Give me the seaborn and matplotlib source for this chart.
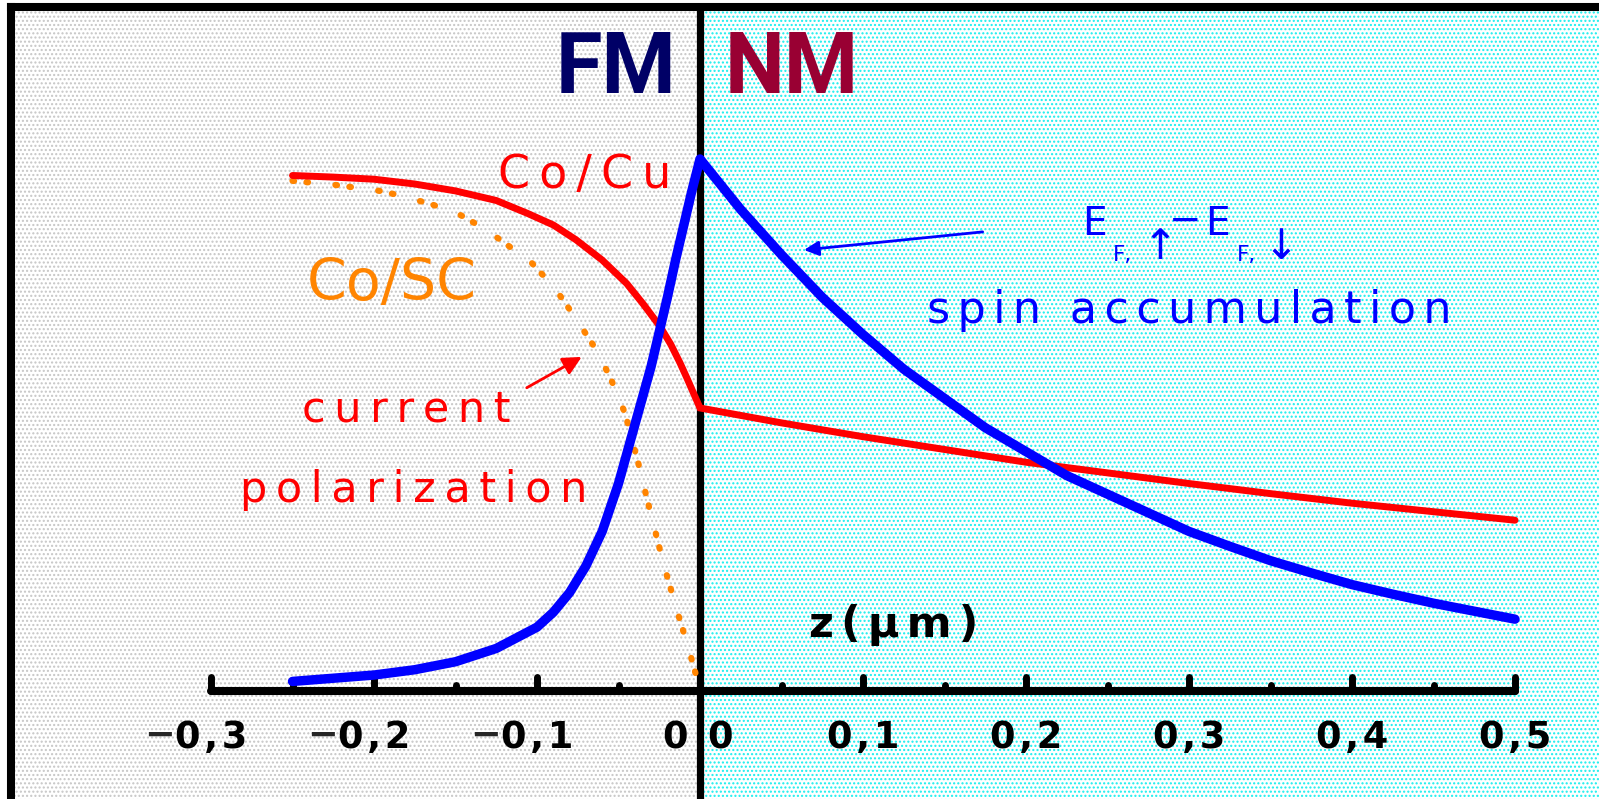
import numpy as np
import pandas as pd
import matplotlib.pyplot as plt
import seaborn as sns

# ---- values (z in um, y in arbitrary units, axis at 0) ----
# spin accumulation (blue)
z_spin_fm = [-0.25, -0.2, -0.175, -0.15, -0.125, -0.1, -0.09, -0.08, -0.07, -0.06,
             -0.05, -0.045, -0.04, -0.035, -0.03, -0.025, -0.02, -0.015, -0.01, -0.005, 0.0]
spin_fm = [0.018, 0.03, 0.04, 0.055, 0.08, 0.12, 0.148, 0.185, 0.235, 0.30,
           0.39, 0.445, 0.50, 0.555, 0.61, 0.675, 0.74, 0.81, 0.875, 0.94, 1.0]
z_spin_nm = [0.0, 0.025, 0.05, 0.075, 0.1, 0.125, 0.15, 0.175, 0.2, 0.225, 0.25,
             0.275, 0.3, 0.325, 0.35, 0.375, 0.4, 0.425, 0.45, 0.475, 0.5]
spin_nm = [1.0, 0.905, 0.82, 0.74, 0.67, 0.605, 0.55, 0.495, 0.45, 0.405, 0.37,
           0.335, 0.30, 0.272, 0.245, 0.222, 0.20, 0.182, 0.165, 0.15, 0.135]

# current polarization, Co/Cu (red)
z_cocu_fm = [-0.25, -0.225, -0.2, -0.175, -0.15, -0.125, -0.106, -0.09, -0.076, -0.06,
             -0.045, -0.035, -0.0245, -0.018, -0.0123, -0.008, -0.004, 0.0]
pol_cocu_fm = [0.969, 0.966, 0.962, 0.953, 0.94, 0.922, 0.898, 0.876, 0.848, 0.81,
               0.766, 0.728, 0.685, 0.652, 0.617, 0.588, 0.56, 0.532]
z_cocu_nm = [0.0, 0.05, 0.1, 0.15, 0.2, 0.25, 0.3, 0.35, 0.4, 0.45, 0.5]
pol_cocu_nm = [0.532, 0.504, 0.478, 0.454, 0.43, 0.41, 0.39, 0.371, 0.353, 0.337, 0.321]

# current polarization, Co/SC (orange, dotted)
z_cosc = [-0.25, -0.223, -0.194, -0.167, -0.15, -0.138, -0.128, -0.118, -0.103, -0.089,
          -0.077, -0.064, -0.055, -0.046, -0.038, -0.03, -0.022, -0.014, -0.007, -0.002]
pol_cosc = [0.959, 0.951, 0.939, 0.917, 0.9, 0.879, 0.86, 0.838, 0.804, 0.757,
            0.704, 0.643, 0.589, 0.522, 0.43, 0.33, 0.235, 0.15, 0.08, 0.025]

major_ticks = [-0.3, -0.2, -0.1, 0.0, 0.1, 0.2, 0.3, 0.4, 0.5]
minor_ticks = [-0.25, -0.15, -0.05, 0.05, 0.15, 0.25, 0.35, 0.45]
tick_labels = ["−0,3", "−0,2", "−0,1", "0", "0,1", "0,2", "0,3", "0,4", "0,5"]

RED = "#ff0000"
BLUE = "#0000ff"
ORANGE = "#ff8400"


def spaced(s, gap="\u2009"):
    return gap.join(s)


sns.set_style("white")
plt.rcParams["font.family"] = ["DejaVu Sans"]
plt.rcParams["hatch.linewidth"] = 1.0

fig = plt.figure(figsize=(15.99, 7.99), dpi=100)
W, H = 1599, 799
# frame: left edge at 11px, top at 7.5px, right/bottom run off the picture
ax = fig.add_axes([11 / W, (H - 800.5) / H, (1610 - 11) / W, (800.5 - 7.5) / H])
x0, x1 = (11 - 700) / 1630, (1610 - 700) / 1630
y0, y1 = (691 - 800.5) / 532, (691 - 7.5) / 532
ax.set_xlim(x0, x1)
ax.set_ylim(y0, y1)
ax.set_xticks([])
ax.set_yticks([])
for sp in ax.spines.values():
    sp.set_linewidth(5.8)
    sp.set_color("black")

# stippled backgrounds
ax.axvspan(x0, 0, facecolor="white", edgecolor="#c6c6c6", hatch="....", lw=0, zorder=0)
ax.axvspan(0, x1, facecolor="white", edgecolor="#18eeee", hatch="....", lw=0, zorder=0)
ax.axvline(0, color="black", lw=5.2, zorder=1)

# axis with ticks pointing up
ax.hlines(0, major_ticks[0], major_ticks[-1], color="black", lw=5.8,
          capstyle="round", zorder=2)
ax.vlines(major_ticks, 0, 0.026, color="black", lw=5.0, capstyle="round", zorder=2)
ax.vlines(minor_ticks, 0, 0.012, color="black", lw=5.0, capstyle="round", zorder=2)

lab_kw = dict(fontsize=26.5, fontweight="bold", color="black", va="baseline", zorder=6)
for t, lab in zip(major_ticks, tick_labels):
    if t == 0:
        ax.text(-0.0156, -0.108, "0", ha="center", **lab_kw)
        ax.text(0.0123, -0.108, "0", ha="center", **lab_kw)
        continue
    num = lab.lstrip("−")
    txt = ax.text(t, -0.108, spaced(num, "\u200a"), ha="center", **lab_kw)
    if lab.startswith("−"):
        ax.annotate("−", xy=(0, 0.58), xycoords=txt, ha="right", va="center",
                    fontsize=26.5, fontweight="bold", zorder=6)

# curves
df_spin = pd.DataFrame({"z": z_spin_fm + z_spin_nm[1:], "v": spin_fm + spin_nm[1:]})
df_cocu = pd.DataFrame({"z": z_cocu_fm + z_cocu_nm[1:], "v": pol_cocu_fm + pol_cocu_nm[1:]})
df_cosc = pd.DataFrame({"z": z_cosc, "v": pol_cosc})

sns.lineplot(data=df_cosc, x="z", y="v", sort=False, estimator=None, ax=ax,
             color=ORANGE, lw=4.5, linestyle=(0, (0.25, 2.0, 0.25, 4.4)),
             dash_capstyle="round", zorder=3)
sns.lineplot(data=df_cocu, x="z", y="v", sort=False, estimator=None, ax=ax,
             color=RED, lw=5.0, solid_capstyle="round", solid_joinstyle="miter", zorder=4)
sns.lineplot(data=df_spin, x="z", y="v", sort=False, estimator=None, ax=ax,
             color=BLUE, lw=6.8, solid_capstyle="round", solid_joinstyle="round", zorder=5)
ax.set_xlabel("")
ax.set_ylabel("")

# region labels
ax.text(-0.0142, 1.1235, "FM", color="#000066", fontsize=61, fontweight="bold",
        family=["Roboto", "DejaVu Sans"], ha="right", va="baseline", zorder=6)
ax.text(0.0153, 1.1235, "NM", color="#990033", fontsize=61, fontweight="bold",
        family=["Roboto", "DejaVu Sans"], ha="left", va="baseline", zorder=6)

ax.text(-0.071, 0.945, spaced("Co/Cu"), color=RED, fontsize=33,
        ha="center", va="baseline", zorder=6)
ax.text(-0.189, 0.735, "Co/SC", color=ORANGE, fontsize=41,
        ha="center", va="baseline", zorder=6)
ax.text(-0.18, 0.506, spaced("current"), color=RED, fontsize=31,
        ha="center", va="baseline", zorder=6)
ax.text(-0.1755, 0.356, spaced("polarization"), color=RED, fontsize=31,
        ha="center", va="baseline", zorder=6)

# E_{F,up} - E_{F,down}, pieces set like the original
e_kw = dict(color=BLUE, ha="left", zorder=6)
ax.text(0.2342, 0.857, "E", fontsize=28, va="baseline", **e_kw)
ax.text(0.2534, 0.809, "F,", fontsize=15.5, va="baseline", **e_kw)
ax.text(0.2715, 0.812, "↑", fontsize=30, va="baseline", **e_kw)
ax.text(0.2877, 0.884, "−", fontsize=28, va="center", **e_kw)
ax.text(0.3098, 0.857, "E", fontsize=28, va="baseline", **e_kw)
ax.text(0.3294, 0.809, "F,", fontsize=15.5, va="baseline", **e_kw)
ax.text(0.3455, 0.812, "↓", fontsize=30, va="baseline", **e_kw)

ax.text(0.300, 0.691, spaced("spin accumulation", "\u2006"), color=BLUE, fontsize=32,
        ha="center", va="baseline", zorder=6)
ax.text(0.119, 0.102, spaced("z(μm)", "\u2006"), color="black", fontsize=31,
        fontweight="bold", ha="center", va="baseline", zorder=6)

# arrows
ax.annotate("", xy=(-0.0726, 0.628), xytext=(-0.1063, 0.570),
            arrowprops=dict(arrowstyle="-|>", color=RED, lw=2, mutation_scale=28,
                            shrinkA=0, shrinkB=0), zorder=6)
ax.annotate("", xy=(0.0638, 0.829), xytext=(0.1734, 0.863),
            arrowprops=dict(arrowstyle="-|>", color=BLUE, lw=2, mutation_scale=22,
                            shrinkA=0, shrinkB=0), zorder=6)

fig.savefig("out.png", dpi=100)
